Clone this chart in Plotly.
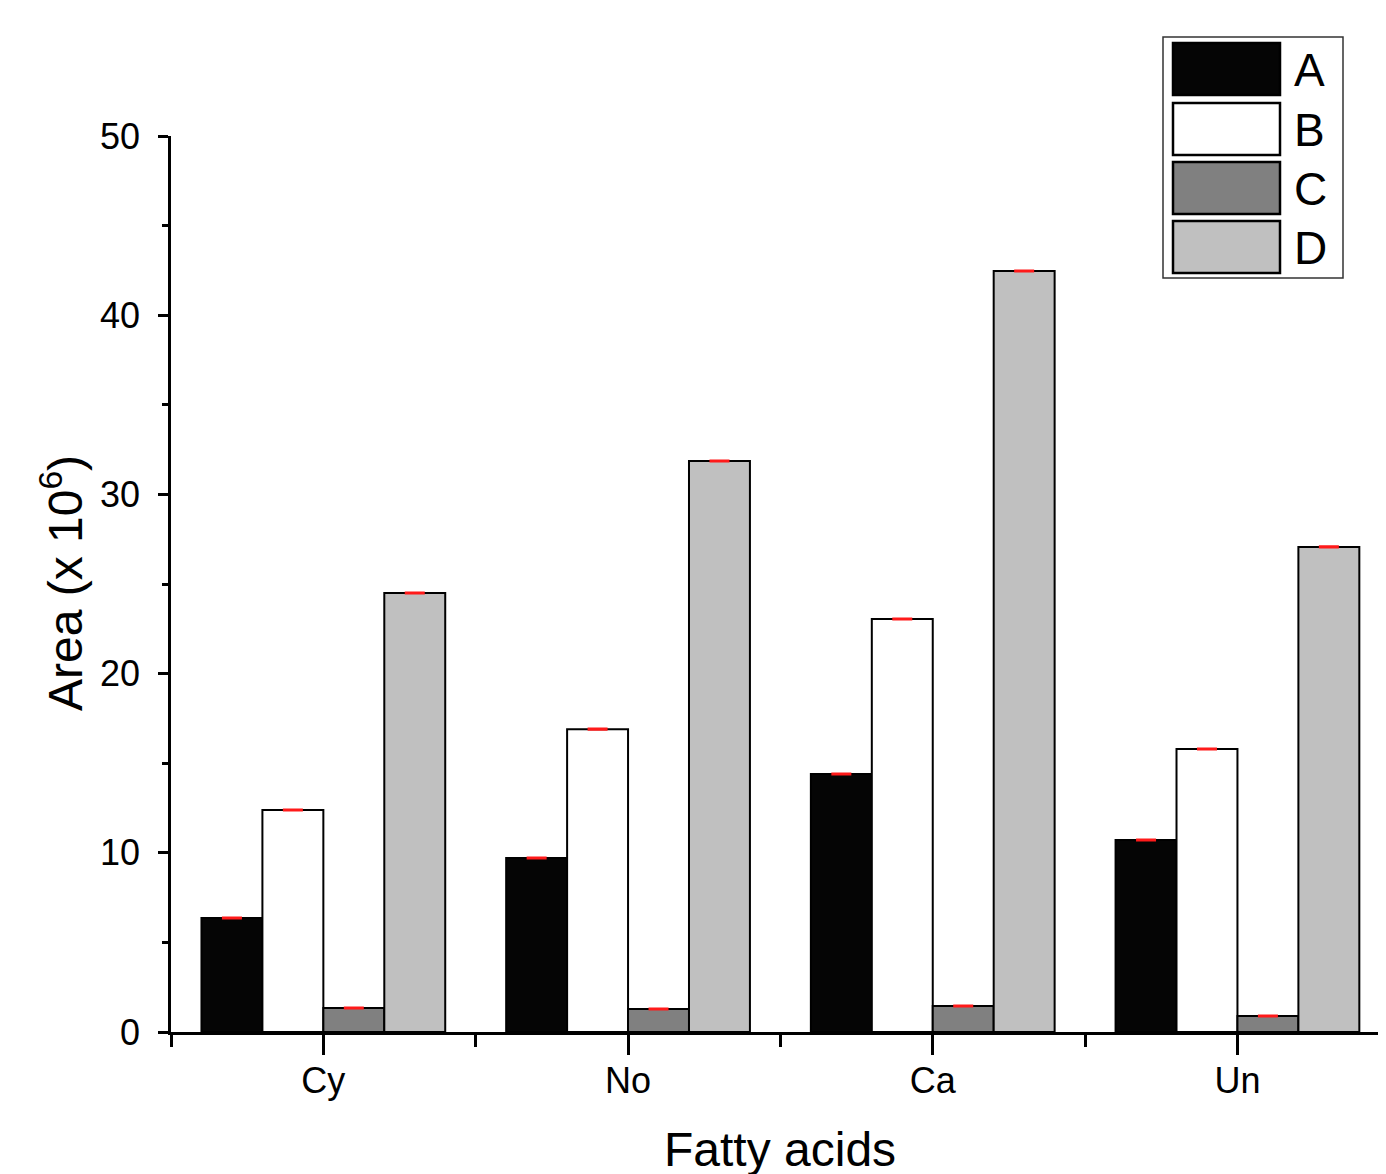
import plotly.graph_objects as go

categories = ["Cy", "No", "Ca", "Un"]
series_names = ["A", "B", "C", "D"]
values_A = [6.36, 9.71, 14.40, 10.71]
values_B = [12.39, 16.90, 23.05, 15.79]
values_C = [1.34, 1.28, 1.45, 0.89]
values_D = [24.50, 31.86, 42.47, 27.07]
errors_A = [0.03, 0.03, 0.03, 0.03]
errors_B = [0.03, 0.03, 0.03, 0.03]
errors_C = [0.03, 0.03, 0.03, 0.03]
errors_D = [0.03, 0.03, 0.03, 0.03]
y_ticks = [0, 10, 20, 30, 40, 50]

colors = ["#050505", "#ffffff", "#808080", "#c0c0c0"]
all_vals = [values_A, values_B, values_C, values_D]
all_errs = [errors_A, errors_B, errors_C, errors_D]

xpos = list(range(len(categories)))
fig = go.Figure()
for name, vals, errs, col in zip(series_names, all_vals, all_errs, colors):
    fig.add_trace(go.Bar(
        x=xpos, y=vals, name=name,
        marker=dict(color=col, line=dict(color="#000000", width=2)),
        error_y=dict(type="data", array=errs, visible=True, color="#ff1a1a",
                     thickness=2, width=10),
        showlegend=False,
    ))

FONT = "Liberation Sans, Arial, sans-serif"
OFF = 8  # page body margin
W, H = 1386 - OFF, 1174 - OFF
# plot area in reference pixels: left 171, right 1385, top 136, bottom 1032
L, T = 171 - OFF, 136 - OFF
R = W - (1385 - OFF)
B = H - (1032 - OFF)
unit_px = 304.7
x_hi = -0.5 + (1385 - 171) / unit_px

fig.update_layout(
    width=W, height=H,
    margin=dict(l=L, r=R, t=T, b=B),
    paper_bgcolor="white", plot_bgcolor="white",
    barmode="group", bargap=0.2, bargroupgap=0,
    font=dict(family=FONT, size=36, color="black"),
    xaxis=dict(
        range=[-0.5, x_hi],
        tickvals=xpos, ticktext=categories,
        ticks="outside", ticklen=20, tickwidth=2.5, tickcolor="black",
        minor=dict(tick0=-0.5, dtick=1, ticks="outside", ticklen=12,
                   tickwidth=2.5, tickcolor="black"),
        showline=True, linecolor="black", linewidth=2.5,
        showgrid=False, zeroline=False,
        tickfont=dict(size=36, family=FONT),
        ticklabelstandoff=-5,
    ),
    yaxis=dict(
        range=[0, 50], tickvals=y_ticks,
        ticks="outside", ticklen=10, tickwidth=2.5, tickcolor="black",
        minor=dict(dtick=5, tick0=0, ticks="outside", ticklen=6,
                   tickwidth=2.5, tickcolor="black"),
        showline=True, linecolor="black", linewidth=2.5,
        showgrid=False, zeroline=False,
        tickfont=dict(size=36, family=FONT),
        ticklabelstandoff=11,
    ),
)

pw, ph = W - L - R, H - T - B
def px(x):
    # reference pixel x -> paper fraction
    return (x - OFF - L) / pw
def py(y):
    # reference pixel y -> paper fraction
    return (H - B - (y - OFF)) / ph

# axis titles
fig.add_annotation(text="Fatty acids", xref="paper", yref="paper",
                   x=px(780), y=py(1149),
                   xanchor="center", yanchor="middle", showarrow=False,
                   font=dict(size=48, family=FONT))
fig.add_annotation(text="Area (x 10<sup>6</sup>)", xref="paper", yref="paper",
                   x=px(62), y=py(583),
                   xanchor="center", yanchor="middle", showarrow=False,
                   textangle=-90, font=dict(size=48, family=FONT))

# custom legend
fig.add_shape(type="rect", xref="paper", yref="paper",
              x0=px(1163), x1=px(1343), y0=py(278), y1=py(37),
              line=dict(color="#333333", width=1.5), fillcolor="white")
sw_top = [43, 103, 162, 221]
for i, (name, col) in enumerate(zip(series_names, colors)):
    t = sw_top[i]
    fig.add_shape(type="rect", xref="paper", yref="paper",
                  x0=px(1173), x1=px(1280), y0=py(t + 52), y1=py(t),
                  line=dict(color="black", width=2.5), fillcolor=col)
    fig.add_annotation(text=name, xref="paper", yref="paper",
                       x=px(1292), y=py(t + 27), xanchor="left", yanchor="middle",
                       showarrow=False, font=dict(size=46, family=FONT))

fig.write_html("out.html")
